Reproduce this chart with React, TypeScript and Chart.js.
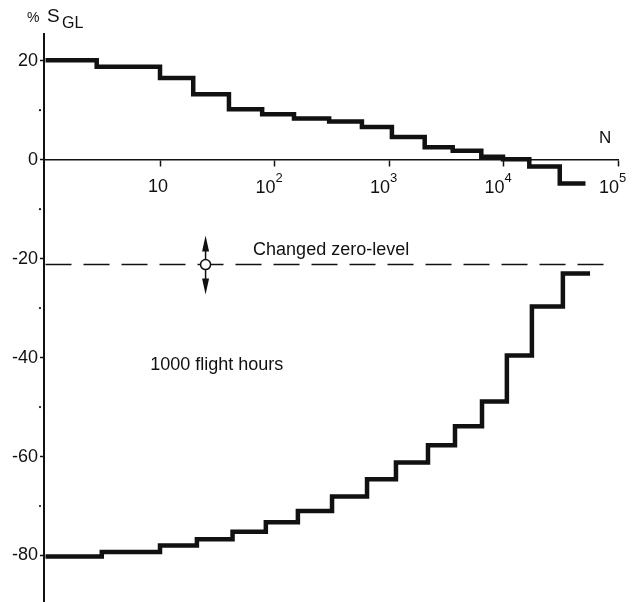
import Chart from "chart.js/auto";
import type { Plugin } from "chart.js";
import React, { useEffect, useRef } from "react";

// Load steps: N (cycles, log axis) against % S_GL
const upperN = [1, 2.8, 10, 19.5, 40, 78, 148, 300, 580, 1060, 2050, 3600, 6400, 9900, 16800, 31000, 52000];
const upperS = [20.1, 18.8, 16.5, 13.2, 10.2, 9.2, 8.3, 7.7, 6.6, 4.6, 2.5, 1.8, 0.6, 0.1, -1.4, -4.8, -4.8];

const lowerN = [1, 3.1, 10, 21, 43, 84, 160, 318, 643, 1150, 2190, 3770, 6490, 10700, 17700, 33000, 57000];
const lowerS = [-80.2, -79.3, -78.0, -76.7, -75.2, -73.3, -71.0, -68.1, -64.6, -61.2, -57.7, -53.9, -48.9, -39.6, -29.7, -23.0, -23.0];

const zeroLevelN = [1, 94000];
const zeroLevelS = -21.2;
const markerN = 25;

const xTicks = [10, 100, 1000, 10000, 100000];
const xTickExponents = ["", "2", "3", "4", "5"];
const yTicks = [20, 0, -20, -40, -60, -80];
const yMinorTicks = [10, -10, -30, -50, -70];

const FONT = '"Liberation Sans", Arial, sans-serif';
const INK = "#111";

// labels, superscripts, arrows and the small minor-tick dots
const decorations: Plugin<"scatter"> = {
  id: "decorations",
  afterDraw(chart) {
    const { ctx, chartArea } = chart;
    const xs = chart.scales.x;
    const ys = chart.scales.y;
    const y0 = ys.getPixelForValue(0);
    ctx.save();
    ctx.fillStyle = INK;
    ctx.strokeStyle = INK;

    yMinorTicks.forEach((v) => {
      ctx.beginPath();
      ctx.arc(chartArea.left - 4, ys.getPixelForValue(v), 1.1, 0, Math.PI * 2);
      ctx.fill();
    });

    ctx.textBaseline = "alphabetic";
    xTicks.forEach((v, i) => {
      const px = xs.getPixelForValue(v);
      const exp = xTickExponents[i];
      ctx.font = `18px ${FONT}`;
      if (!exp) {
        ctx.textAlign = "center";
        ctx.fillText("10", px - 2, y0 + 32);
        return;
      }
      ctx.textAlign = "right";
      ctx.fillText("10", px + 1, y0 + 33);
      ctx.font = `13px ${FONT}`;
      ctx.textAlign = "left";
      ctx.fillText(exp, px + 1, y0 + 22);
    });

    // axis names
    ctx.textAlign = "left";
    ctx.font = `17px ${FONT}`;
    ctx.fillText("N", chartArea.right - 19, y0 - 17);
    ctx.font = `14px ${FONT}`;
    ctx.fillText("%", chartArea.left - 17, 22);
    ctx.font = `19px ${FONT}`;
    ctx.fillText("S", chartArea.left + 3, 22);
    ctx.font = `16px ${FONT}`;
    ctx.fillText("GL", chartArea.left + 18, 28);

    // shift arrows on the zero-level marker
    const mx = xs.getPixelForValue(markerN);
    const my = ys.getPixelForValue(zeroLevelS);
    ctx.lineWidth = 1.5;
    ctx.beginPath();
    ctx.moveTo(mx, my - 5);
    ctx.lineTo(mx, my - 15);
    ctx.moveTo(mx, my + 5);
    ctx.lineTo(mx, my + 15);
    ctx.stroke();
    ctx.beginPath();
    ctx.moveTo(mx, my - 29);
    ctx.lineTo(mx - 3.5, my - 13);
    ctx.lineTo(mx + 3.5, my - 13);
    ctx.closePath();
    ctx.moveTo(mx, my + 30);
    ctx.lineTo(mx - 3.5, my + 14);
    ctx.lineTo(mx + 3.5, my + 14);
    ctx.closePath();
    ctx.fill();

    ctx.font = `18px ${FONT}`;
    ctx.fillText("Changed zero-level", xs.getPixelForValue(65), ys.getPixelForValue(-19.3));
    ctx.fillText("1000 flight hours", xs.getPixelForValue(8.2), ys.getPixelForValue(-42.5));
    ctx.restore();
  },
};

const toPoints = (ns: number[], ss: number[]) => ns.map((n, i) => ({ x: n, y: ss[i] }));

const App: React.FC = () => {
  const canvasRef = useRef<HTMLCanvasElement>(null);

  useEffect(() => {
    document.body.style.margin = "0";
    document.body.style.overflow = "hidden";
    if (!canvasRef.current) return;

    const chart = new Chart(canvasRef.current, {
      type: "scatter",
      data: {
        datasets: [
          {
            label: "marker",
            data: [{ x: markerN, y: zeroLevelS }],
            showLine: false,
            pointRadius: 5,
            pointBackgroundColor: "#fff",
            pointBorderColor: INK,
            pointBorderWidth: 1.5,
          },
          {
            label: "upper",
            data: toPoints(upperN, upperS),
            showLine: true,
            stepped: true,
            borderColor: INK,
            borderWidth: 4.5,
            borderJoinStyle: "miter",
            pointRadius: 0,
            clip: false,
          },
          {
            label: "lower",
            data: toPoints(lowerN, lowerS),
            showLine: true,
            stepped: true,
            borderColor: INK,
            borderWidth: 4.5,
            borderJoinStyle: "miter",
            pointRadius: 0,
            clip: false,
          },
          {
            label: "zero level",
            data: zeroLevelN.map((n) => ({ x: n, y: zeroLevelS })),
            showLine: true,
            borderColor: INK,
            borderWidth: 1.5,
            borderDash: [26, 12],
            pointRadius: 0,
          },
        ],
      },
      options: {
        responsive: true,
        maintainAspectRatio: false,
        animation: false,
        layout: { autoPadding: false, padding: { top: 34, right: 18, bottom: 0, left: 0 } },
        plugins: { legend: { display: false }, tooltip: { enabled: false } },
        scales: {
          x: {
            type: "logarithmic",
            min: 0.97,
            max: 100000,
            position: { y: 0 },
            afterBuildTicks: (scale) => {
              scale.ticks = xTicks.map((v) => ({ value: v }));
            },
            afterFit: (scale) => {
              scale.paddingLeft = 0;
              scale.paddingRight = 0;
              scale.paddingTop = 0;
              scale.paddingBottom = 0;
            },
            ticks: { display: false },
            grid: {
              drawOnChartArea: false,
              tickLength: 6,
              tickColor: INK,
              tickWidth: 1.5,
            },
            border: { color: INK, width: 1.5 },
          },
          y: {
            type: "linear",
            min: -89.4,
            max: 25.4,
            afterBuildTicks: (scale) => {
              scale.ticks = yTicks.map((v) => ({ value: v }));
            },
            afterFit: (scale) => {
              scale.width = 44;
              scale.paddingTop = 0;
              scale.paddingBottom = 0;
            },
            ticks: {
              color: INK,
              padding: 2,
              font: { family: FONT, size: 18 },
              callback: (value) => String(value),
            },
            grid: {
              drawOnChartArea: false,
              tickLength: 4,
              tickColor: INK,
              tickWidth: 1.5,
            },
            border: { color: INK, width: 2 },
          },
        },
      },
      plugins: [decorations],
    });

    return () => chart.destroy();
  }, []);

  return (
    <div style={{ position: "relative", width: 636, height: 602, background: "#fff" }}>
      <canvas ref={canvasRef}></canvas>
    </div>
  );
};

export default App;
